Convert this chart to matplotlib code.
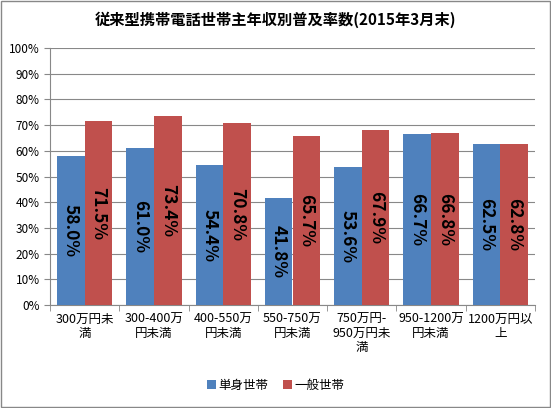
import matplotlib
matplotlib.use("Agg")
import matplotlib.pyplot as plt
import numpy as np
from matplotlib.patches import Rectangle

plt.rcParams['font.family'] = ['Noto Sans CJK JP', 'DejaVu Sans']

categories = ["300万円未\n満", "300-400万\n円未満", "400-550万\n円未満", "550-750万\n円未満",
              "750万円-\n950万円未\n満", "950-1200万\n円未満", "1200万円以\n上"]
single = [58.0, 61.0, 54.4, 41.8, 53.6, 66.7, 62.5]
general = [71.5, 73.4, 70.8, 65.7, 67.9, 66.8, 62.8]
series_names = ["単身世帯", "一般世帯"]
yticks = [0, 10, 20, 30, 40, 50, 60, 70, 80, 90, 100]

blue = "#4F81BD"
red = "#C0504D"

fig = plt.figure(figsize=(5.51, 4.08), dpi=100)
fig.patches.append(Rectangle((0.002, 0.002), 0.996, 0.996, transform=fig.transFigure,
                             fill=False, edgecolor="#888888", linewidth=1))
ax = fig.add_axes([50/551, 1-305/408, 485/551, 257/408])

x = np.arange(len(categories))
w = 0.4
b1 = ax.bar(x - w/2, single, w, color=blue, zorder=3)
b2 = ax.bar(x + w/2, general, w, color=red, zorder=3)

for bars, vals in ((b1, single), (b2, general)):
    for r, v in zip(bars, vals):
        ax.text(r.get_x() + r.get_width()/2, v/2, f"{v:.1f}%", rotation=-90,
                ha="center", va="center", fontsize=12.5, fontweight="bold", color="black", zorder=4)

ax.set_xlim(-0.5, len(categories) - 0.5)
ax.set_ylim(0, 100)
ax.set_yticks(yticks)
ax.set_yticklabels([f"{t}%" for t in yticks], fontsize=8.5)
ax.grid(axis="y", color="#888888", linewidth=0.8, zorder=0)
ax.set_xticks(np.arange(len(categories) + 1) - 0.5, minor=True)
ax.set_xticks(x)
ax.set_xticklabels(categories, fontsize=9, linespacing=1.1, va="top")
ax.tick_params(axis="x", which="major", length=0, pad=6)
ax.tick_params(axis="x", which="minor", length=4, color="#888888")
ax.tick_params(axis="y", length=4, color="#888888")
for s in ["top", "right"]:
    ax.spines[s].set_visible(False)
for s in ["left", "bottom"]:
    ax.spines[s].set_color("#888888")

fig.text(0.5, 1-20/408, "従来型携帯電話世帯主年収別普及率数(2015年3月末)", ha="center", va="center",
         fontsize=11, fontweight="bold")

leg = fig.legend([b1, b2], series_names, loc="center", bbox_to_anchor=(0.5, 1-385/408),
                 ncol=2, frameon=False, fontsize=9, handlelength=0.7, handleheight=0.7,
                 columnspacing=1.2, handletextpad=0.2)

fig.savefig("out.png", dpi=100)
